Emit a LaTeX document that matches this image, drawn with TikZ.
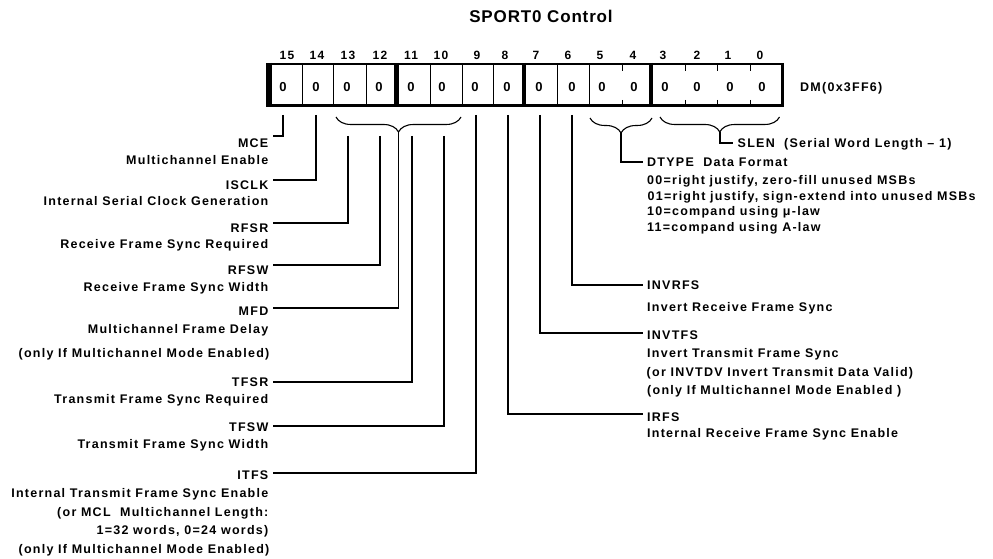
\documentclass[tikz,border=0pt]{standalone}
\usepackage{fontspec}
\setmainfont{Liberation Sans}
\newfontfamily\lblfont[LetterSpace=10]{Liberation Sans}
\newfontfamily\ttlfont[LetterSpace=5]{Liberation Sans}
\usetikzlibrary{decorations.pathreplacing}
\begin{document}
\begin{tikzpicture}[x=1pt,y=-1pt,
  lbl/.style={font=\lblfont\bfseries\fontsize{12.5}{14}\selectfont, inner sep=0pt, text height=9pt, text depth=0pt},
  lname/.style={lbl, anchor=base east, inner xsep=4.5pt},
  ldesc/.style={lbl, anchor=base east},
  rname/.style={lbl, anchor=base west, inner xsep=4pt},
  rdesc/.style={lbl, anchor=base west},
  dig/.style={font=\lblfont\bfseries\fontsize{13}{15}\selectfont, inner sep=0pt, anchor=center},
  bitno/.style={font=\lblfont\bfseries\fontsize{12}{14}\selectfont, inner sep=0pt, anchor=center},
  lead/.style={line width=1.5pt},
  bracestyle/.style={line width=1.1pt, decorate, decoration={brace, mirror, amplitude=15pt}},
  thin/.style={line width=1pt},
  thicksep/.style={line width=4.3pt}]
\useasboundingbox (0,0) rectangle (993,559);
\fill[white] (0,0) rectangle (993,559);

% title
\node[font=\ttlfont\bfseries\fontsize{17}{20}\selectfont, anchor=base, inner sep=0pt] (title) at (541,22.5) {SPORT0 Control};

% register frame
\draw[line width=2.3pt] (266,64) -- (783,64);
\draw[line width=3.3pt] (266,105.5) -- (784,105.5);
\draw[line width=6pt] (269,62.9) -- (269,107.2);
\draw[line width=3pt] (782.5,62.9) -- (782.5,107.2);
\foreach \x in {396.5,524,651} \draw[thicksep] (\x,63) -- (\x,107);
\foreach \x in {302,333.5,366,430,462,493.5,557,589} \draw[thin] (\x,64) -- (\x,105);
\foreach \x in {622,685,717,750} {\draw[thin] (\x,64) -- (\x,71); \draw[thin] (\x,100) -- (\x,105);}

% digits and bit numbers
\foreach \b/\x in {15/283,14/316,13/347,12/379,11/411,10/442,9/475,8/507,7/539,6/572,5/602,4/634,3/665,2/697,1/730,0/762}
  \node[dig] (d\b) at (\x,87) {0};
\foreach \b/\x in {15/287,14/317,13/348,12/380,11/411,10/441,9/477,8/505,7/536,6/568,5/600,4/633,3/663,2/697,1/728,0/760}
  \node[bitno] (n\b) at (\x,55) {\b};
\node[lbl, anchor=base west] (dm) at (800,91.5) {DM(0x3FF6)};

% braces
\draw[bracestyle] (336,117) -- (461,117);
\draw[bracestyle] (590,118) -- (652,118);
\draw[bracestyle] (660,117) -- (779.5,117);
\coordinate (brA) at (398.5,132);
\coordinate (brB) at (621,133);
\coordinate (brC) at (720,132);

% lead start points
\coordinate (t15) at (283,115);
\coordinate (t14) at (316,115);
\coordinate (t13) at (348,136);
\coordinate (t12) at (380,136);
\coordinate (t11) at (412,136);
\coordinate (t10) at (444,136);
\coordinate (t9) at (476,115);
\coordinate (t8) at (508,115);
\coordinate (t7) at (540,115);
\coordinate (t6) at (572,115);

% left labels
\node[lname] (mce) at (273,147.5) {MCE};
\node[ldesc] (mced) at (268.5,164.5) {Multichannel Enable};
\node[lname] (isclk) at (273,189.5) {ISCLK};
\node[ldesc] (isclkd) at (268.5,205.5) {Internal Serial Clock Generation};
\node[lname] (rfsr) at (273,232) {RFSR};
\node[ldesc] (rfsrd) at (268.5,248.5) {Receive Frame Sync Required};
\node[lname] (rfsw) at (273,274.5) {RFSW};
\node[ldesc] (rfswd) at (268.5,291.5) {Receive Frame Sync Width};
\node[lname] (mfd) at (273,315.5) {MFD};
\node[ldesc] (mfdd) at (268.5,333.5) {Multichannel Frame Delay};
\node[ldesc] (mfde) at (269.5,357.5) {(only If Multichannel Mode Enabled)};
\node[lname] (tfsr) at (273,386.5) {TFSR};
\node[ldesc] (tfsrd) at (268.5,403.5) {Transmit Frame Sync Required};
\node[lname] (tfsw) at (273,431.5) {TFSW};
\node[ldesc] (tfswd) at (268.5,448.5) {Transmit Frame Sync Width};
\node[lname] (itfs) at (273,479.5) {ITFS};
\node[ldesc] (itfsa) at (268.5,497.5) {Internal Transmit Frame Sync Enable};
\node[ldesc] (itfsb) at (268.5,516.5) {(or MCL\ \ Multichannel Length:};
\node[ldesc] (itfsc) at (268.5,534.5) {1=32 words, 0=24 words)};
\node[ldesc] (itfsd) at (269.5,553.5) {(only If Multichannel Mode Enabled)};

% right labels
\node[rname, inner xsep=4.5pt] (slen) at (733,147.5) {SLEN\ \ (Serial Word Length – 1)};
\node[rname] (dtype) at (643,166.5) {DTYPE\ \ Data Format};
\node[rdesc] (dt0) at (647,184.5) {00=right justify, zero-fill unused MSBs};
\node[rdesc] (dt1) at (647.5,200) {01=right justify, sign-extend into unused MSBs};
\node[rdesc] (dt2) at (647,215.5) {10=compand using μ-law};
\node[rdesc] (dt3) at (647,231) {11=compand using A-law};
\node[rname] (invrfs) at (643,289.5) {INVRFS};
\node[rdesc] (invrfsd) at (647,311.5) {Invert Receive Frame Sync};
\node[rname] (invtfs) at (643,339.5) {INVTFS};
\node[rdesc] (invtfsa) at (647,357.5) {Invert Transmit Frame Sync};
\node[rdesc] (invtfsb) at (646.5,376.5) {(or INVTDV Invert Transmit Data Valid)};
\node[rdesc] (invtfsc) at (647,394.5) {(only If Multichannel Mode Enabled )};
\node[rname] (irfs) at (643,421.5) {IRFS};
\node[rdesc] (irfsd) at (647,437.5) {Internal Receive Frame Sync Enable};

% leads left
\draw[lead] (t15) |- ([yshift=7pt]mce.east);
\draw[lead] (t14) |- ([yshift=5pt]isclk.east);
\draw[lead] (t13) |- ([yshift=4.5pt]rfsr.east);
\draw[lead] (t12) |- ([yshift=5pt]rfsw.east);
\draw[lead] (brA) |- ([yshift=3pt]mfd.east);
\draw[lead] (t11) |- ([yshift=0pt]tfsr.east);
\draw[lead] (t10) |- ([yshift=1pt]tfsw.east);
\draw[lead] (t9) |- ([yshift=2pt]itfs.east);

% leads right
\draw[lead] (brC) |- (slen.west);
\draw[lead] (brB) |- (dtype.west);
\draw[lead] (t6) |- (invrfs.west);
\draw[lead] (t7) |- ([yshift=2pt]invtfs.west);
\draw[lead] (t8) |- ([yshift=3pt]irfs.west);
\end{tikzpicture}
\end{document}
